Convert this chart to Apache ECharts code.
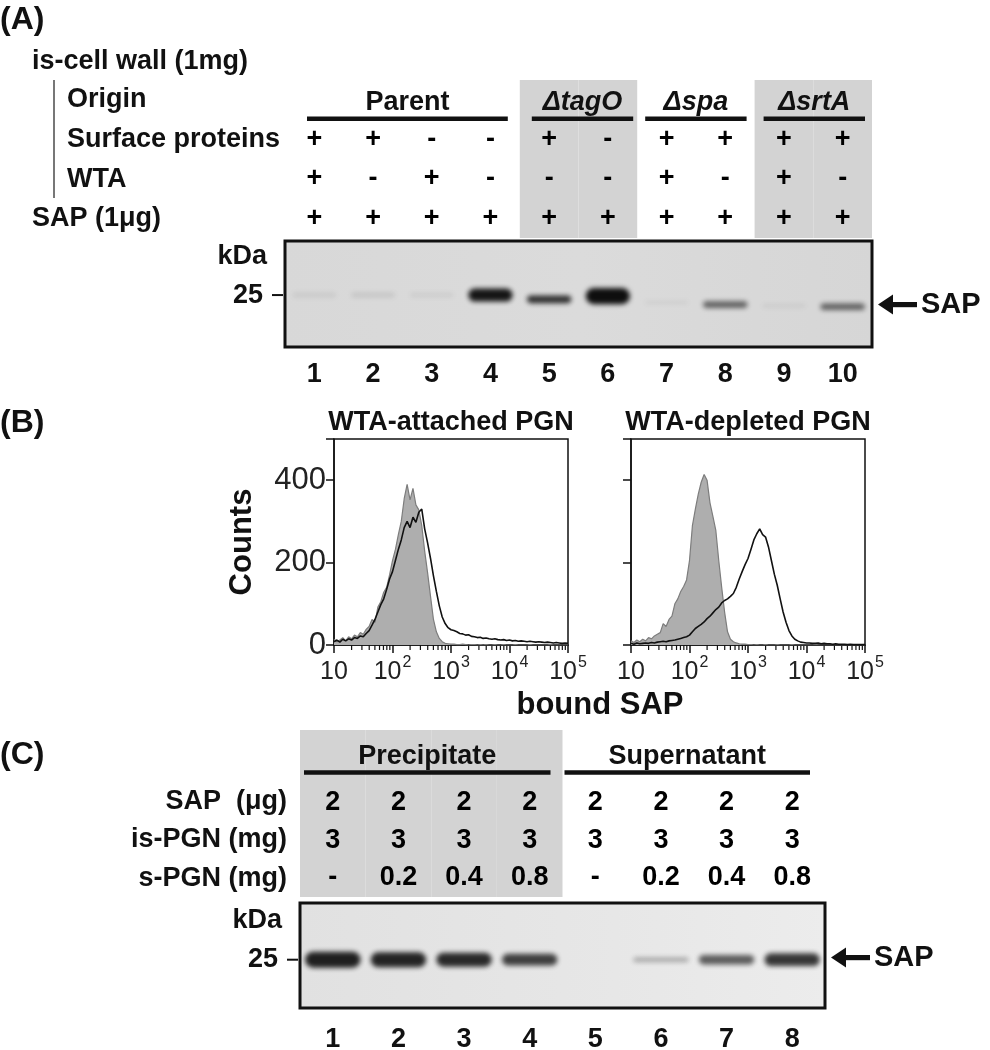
<!DOCTYPE html>
<html><head><meta charset="utf-8">
<script src="https://cdn.jsdelivr.net/npm/echarts@6/dist/echarts.min.js"></script>
<style>html,body{margin:0;padding:0;background:#fff}#c{width:990px;height:1050px}</style>
</head><body><div id="c"></div>
<script>
// ---------------- Panel A data ----------------
const lanesA = ['1','2','3','4','5','6','7','8','9','10'];
const originGroupsA = ['Parent','ΔtagO','Δspa','ΔsrtA'];
const originItalicA = [false, true, true, true];
const originSpansA = [[0,3],[4,5],[6,7],[8,9]];
const shadedA = [0,0,0,0,1,1,0,0,1,1];
const surfaceProteinsA = ['+','+','-','-','+','-','+','+','+','+'];
const wtaA = ['+','-','+','-','-','-','+','-','+','-'];
const sapA = ['+','+','+','+','+','+','+','+','+','+'];
// gel A: relative band darkness, migration (% of gel height from top), band spread (% of gel height)
const bandIntensityA = [0.07,0.09,0.06,0.97,0.85,1.0,0.05,0.6,0.06,0.6];
const bandPositionA = [51,51,51,51,55,52,58,60,61,62];
const bandSpreadA = [9,9,9,16,11,19,8,10,8,10];
const markerLabel = '25';
const markerPosA = 51;
const sapPosA = 60;

// ---------------- Panel B data ----------------
// flow histogram channels: 20 channels per decade, 10 .. 10^5
const attachedControl = [14,8,12,18,10,20,15,24,20,30,26,38,45,62,55,92,105,128,140,170,205,232,268,300,355,390,352,380,340,328,290,228,175,118,62,32,16,8,4,3,2,
 2,1,1,2,1,0,1,1,0,1,0,1,0,0,1,0,0,1,0,0,0,1,0,0,0,0,1,0,0,0,0,0,0,1,0,0,0,0,0,0];
const attachedSample = [8,12,7,14,10,15,12,18,16,22,20,28,35,48,62,80,98,112,135,160,178,205,232,255,285,300,285,310,298,322,330,282,248,210,168,130,95,68,52,42,37,
 35,32,28,27,24,25,21,20,18,19,16,17,15,14,15,13,12,13,11,12,10,11,9,10,9,8,9,8,7,8,7,6,7,6,5,6,5,4,5,4];
const depletedControl = [10,6,12,8,14,10,18,15,22,26,30,52,45,62,70,100,112,130,142,158,205,290,330,366,395,414,400,345,312,278,205,140,80,32,14,8,5,3,2,2,1,
 1,0,1,0,0,1,0,0,0,1,0,0,0,0,1,0,0,0,0,0,0,0,1,0,0,0,0,0,0,0,0,0,0,0,0,0,1,0,0,0];
const depletedSample = [4,2,5,3,4,5,4,6,5,7,8,9,8,10,11,12,14,16,18,20,24,32,40,45,50,56,64,70,78,86,92,102,108,112,118,125,140,160,178,195,210,
 232,255,270,282,268,262,238,205,172,145,112,80,55,35,22,14,10,7,6,5,5,4,4,5,3,4,3,3,2,3,2,2,2,1,2,1,1,1,1,1];
const channelX = attachedControl.map((_, i) => Math.pow(10, 1 + i / 20));
const minorTicks = [20,30,40,50,60,70,80,90,200,300,400,500,600,700,800,900,2000,3000,4000,5000,6000,7000,8000,9000,20000,30000,40000,50000,60000,70000,80000,90000];

// ---------------- Panel C data ----------------
const lanesC = ['1','2','3','4','5','6','7','8'];
const fractionGroupsC = ['Precipitate','Supernatant'];
const fractionSpansC = [[0,3],[4,7]];
const shadedC = [1,1,1,1,0,0,0,0];
const sapUgC = ['2','2','2','2','2','2','2','2'];
const isPgnC = ['3','3','3','3','3','3','3','3'];
const sPgnC = ['-','0.2','0.4','0.8','-','0.2','0.4','0.8'];
const bandIntensityC = [0.92,0.9,0.88,0.78,0,0.32,0.65,0.82];
const bandPositionC = [54,54,54,54,54,54,54,54];
const bandSpreadC = [19,18,17,15,0,8,13,16];
const markerPosC = 54;
const sapPosC = 52;

// ---------------- helpers ----------------
const FONT = '"Liberation Sans", Arial, Helvetica, sans-serif';
const INK = '#111';
function font(size, weight, italic) { return (italic ? 'italic ' : '') + (weight || 'bold') + ' ' + size + 'px ' + FONT; }
function T(text, x, y, size, align, weight) {
  align = align || 'left';
  return { type: 'text', x: x, y: y, silent: true,
    style: { text: text, font: font(size, weight), fill: INK, textAlign: align, align: align, textVerticalAlign: 'middle', verticalAlign: 'middle' } };
}
function headerRender(names, italics, labelVal, lineVal, insets) {
  return function (params, api) {
    const s = api.value(0), e = api.value(1);
    const band = api.size([1, 0])[0];
    const ins = insets[params.dataIndex];
    const p0 = api.coord([s, lineVal]), p1 = api.coord([e, lineVal]);
    const x0 = p0[0] - band / 2 + ins[0], x1 = p1[0] + band / 2 - ins[1];
    const ty = api.coord([s, labelVal])[1];
    const cx = (x0 + x1) / 2;
    return { type: 'group', children: [
      { type: 'rect', shape: { x: x0, y: p0[1] - 2.3, width: x1 - x0, height: 4.6 }, style: { fill: INK } },
      { type: 'text', style: { text: names[params.dataIndex], x: cx, y: ty, font: font(27, 'bold', italics[params.dataIndex]), fill: INK,
        textAlign: 'center', align: 'center', textVerticalAlign: 'middle', verticalAlign: 'middle' } }
    ] };
  };
}
function cellRender(texts) {
  return function (params, api) {
    const p = api.coord([api.value(0), api.value(1)]);
    return { type: 'group', children: [
      { type: 'text', style: { text: texts[params.dataIndex], x: p[0], y: p[1], font: font(27), fill: '#000', opacity: 1,
        textAlign: 'center', align: 'center', textVerticalAlign: 'middle', verticalAlign: 'middle' } }
    ] };
  };
}
function bandRender(widthFrac) {
  return function (params, api) {
    const inten = api.value(2);
    if (!(inten > 0)) return null;
    const c = api.coord([api.value(0), api.value(1)]);
    const sz = api.size([1, api.value(3)]);
    const bw = sz[0] * widthFrac - 5, h = Math.max(sz[1] - 4, 2);
    const OFF = 3000;
    // draw the band only as its blurred shadow (shape itself shifted off-canvas)
    return { type: 'rect', shape: { x: c[0] - bw / 2 - OFF, y: c[1] - h / 2, width: bw, height: h, r: h / 2 },
      style: { fill: '#000', shadowBlur: 5, shadowOffsetX: OFF, shadowOffsetY: 0, shadowColor: 'rgba(14,14,14,' + inten + ')' } };
  };
}
function markerRender(params, api) {
  // data: [laneIdxFirst, markerPos, laneIdxLast, sapPos]
  const band = api.size([1, 0])[0];
  const pm = api.coord([api.value(0), api.value(1)]);
  const left = pm[0] - band / 2;
  const ps = api.coord([api.value(2), api.value(3)]);
  const right = ps[0] + band / 2;
  const y = ps[1];
  const txt = (t, x, yy, size, align) => ({ type: 'text', style: { text: t, x: x, y: yy, font: font(size), fill: INK,
    textAlign: align, align: align, textVerticalAlign: 'middle', verticalAlign: 'middle' } });
  return { type: 'group', children: [
    txt('kDa', left - 18, pm[1] - 39, 27, 'right'),
    txt(markerLabel, left - 22, pm[1], 27, 'right'),
    { type: 'line', shape: { x1: left - 13, y1: pm[1], x2: left - 2, y2: pm[1] }, style: { stroke: INK, lineWidth: 2 } },
    { type: 'polygon', shape: { points: [[right + 6, y], [right + 21, y - 10], [right + 21, y + 10]] }, style: { fill: INK } },
    { type: 'rect', shape: { x: right + 19, y: y - 2.6, width: 26, height: 5.2 }, style: { fill: INK } },
    txt('SAP', right + 49, y, 29, 'left')
  ] };
}
function minorTickRender(params, api) {
  const p = api.coord([api.value(0), 0]);
  return { type: 'line', shape: { x1: p[0], y1: p[1], x2: p[0], y2: p[1] + 5 }, style: { stroke: INK, lineWidth: 1.2 } };
}
function logLabel(v) {
  const e = Math.round(Math.log10(v));
  return e === 1 ? '{b|10}' : '{b|10}{s|' + e + '}';
}
const logLabelRich = {
  b: { fontSize: 25, fontFamily: FONT, color: '#222', lineHeight: 30, verticalAlign: 'bottom' },
  s: { fontSize: 16, fontFamily: FONT, color: '#222', lineHeight: 30, verticalAlign: 'top', padding: [0, 0, 0, 1] }
};

const gridBase = { outerBoundsMode: 'none', containLabel: false };
const grids = [
  Object.assign({ left: 285, top: 80, width: 587, height: 158, show: false }, gridBase),
  Object.assign({ left: 285, top: 241, width: 587, height: 106, show: true, borderColor: INK, borderWidth: 3,
    backgroundColor: new echarts.graphic.LinearGradient(0, 0, 1, 0, [{ offset: 0, color: '#d8d8d8' }, { offset: 0.5, color: '#dbdbdb' }, { offset: 1, color: '#d6d6d6' }]) }, gridBase),
  Object.assign({ left: 334, top: 439, width: 234, height: 206, show: true, borderColor: INK, borderWidth: 1.5, backgroundColor: '#fff' }, gridBase),
  Object.assign({ left: 631, top: 439, width: 234, height: 206, show: true, borderColor: INK, borderWidth: 1.5, backgroundColor: '#fff' }, gridBase),
  Object.assign({ left: 300, top: 730, width: 525, height: 167, show: false }, gridBase),
  Object.assign({ left: 300, top: 903, width: 525, height: 105, show: true, borderColor: INK, borderWidth: 3,
    backgroundColor: new echarts.graphic.LinearGradient(0, 0, 1, 0, [{ offset: 0, color: '#e1e1e1' }, { offset: 0.6, color: '#e7e7e7' }, { offset: 1, color: '#ececec' }]) }, gridBase)
];
const laneAxisLabel = m => ({ show: true, margin: m, color: INK, fontSize: 27, fontWeight: 'bold', fontFamily: FONT });
const logX = gi => ({ type: 'log', logBase: 10, gridIndex: gi, min: 10, max: 100000,
  axisLine: { lineStyle: { color: INK, width: 1.5 } }, axisTick: { show: true, inside: false, length: 8, lineStyle: { color: INK, width: 1.5 } },
  splitLine: { show: false }, minorTick: { show: false }, axisLabel: { margin: 10, formatter: logLabel, rich: logLabelRich } });
const countY = (gi, labels) => Object.assign({ type: 'value', gridIndex: gi, min: 0, max: 500, interval: 200,
  axisLine: { show: true, lineStyle: { color: INK, width: 1.5 } }, axisTick: { show: true, inside: false, length: 8, lineStyle: { color: INK, width: 1.5 } },
  splitLine: { show: false },
  axisLabel: { show: labels, margin: 8, fontSize: 31, color: '#222', fontFamily: FONT, formatter: v => (v > 400 ? '' : String(v)) } },
  labels ? { name: 'Counts', nameLocation: 'middle', nameRotate: 90, nameGap: 76, nameTextStyle: { fontSize: 31, fontWeight: 'bold', color: INK, fontFamily: FONT } } : {});

function cellSeries(xi, rows) {
  const texts = [], data = [];
  rows.forEach(r => r.vals.forEach((v, i) => { texts.push(v); data.push([i, r.y]); }));
  return { type: 'custom', xAxisIndex: xi, yAxisIndex: xi, z: 4, silent: true, clip: false, renderItem: cellRender(texts), data: data };
}

const option = {
  animation: false,
  backgroundColor: '#fff',
  textStyle: { fontFamily: FONT },
  grid: grids,
  xAxis: [
    { type: 'category', gridIndex: 0, data: lanesA, show: false },
    { type: 'category', gridIndex: 1, data: lanesA, axisLine: { show: false }, axisTick: { show: false }, axisLabel: laneAxisLabel(14) },
    logX(2), logX(3),
    { type: 'category', gridIndex: 4, data: lanesC, show: false },
    { type: 'category', gridIndex: 5, data: lanesC, axisLine: { show: false }, axisTick: { show: false }, axisLabel: laneAxisLabel(18) }
  ],
  yAxis: [
    { type: 'value', gridIndex: 0, min: 0, max: 4, inverse: true, show: false },
    { type: 'value', gridIndex: 1, min: 0, max: 100, inverse: true, show: false },
    countY(2, true), countY(3, false),
    { type: 'value', gridIndex: 4, min: 0, max: 4.4, inverse: true, show: false },
    { type: 'value', gridIndex: 5, min: 0, max: 100, inverse: true, show: false }
  ],
  series: [
    // ---- Panel A table ----
    { type: 'bar', xAxisIndex: 0, yAxisIndex: 0, barWidth: '100%', silent: true, z: 1, itemStyle: { color: '#d3d3d3' },
      data: shadedA.map(f => (f ? 4 : '-')) },
    { type: 'custom', xAxisIndex: 0, yAxisIndex: 0, z: 3, silent: true, clip: false,
      renderItem: headerRender(originGroupsA, originItalicA, 0.56, 0.98, [[22, 12], [12, 4], [8, 8], [9, 7]]), data: originSpansA },
    cellSeries(0, [{ y: 1.5, vals: surfaceProteinsA }, { y: 2.5, vals: wtaA }, { y: 3.5, vals: sapA }]),
    // ---- Panel A gel ----
    { type: 'custom', xAxisIndex: 1, yAxisIndex: 1, z: 3, silent: true, clip: false, renderItem: bandRender(0.84),
      data: lanesA.map((l, i) => [i, bandPositionA[i], bandIntensityA[i], bandSpreadA[i]]) },
    { type: 'custom', xAxisIndex: 1, yAxisIndex: 1, z: 3, silent: true, clip: false, renderItem: markerRender,
      data: [[0, markerPosA, lanesA.length - 1, sapPosA]] },
    // ---- Panel B ----
    { type: 'line', xAxisIndex: 2, yAxisIndex: 2, showSymbol: false, symbol: 'none', z: 2, silent: true,
      lineStyle: { color: '#7d7d7d', width: 1.2 }, areaStyle: { color: '#aeaeae', opacity: 1 },
      data: channelX.map((x, i) => [x, attachedControl[i]]) },
    { type: 'line', xAxisIndex: 2, yAxisIndex: 2, showSymbol: false, symbol: 'none', z: 3, silent: true,
      lineStyle: { color: INK, width: 1.6 }, data: channelX.map((x, i) => [x, attachedSample[i]]) },
    { type: 'custom', xAxisIndex: 2, yAxisIndex: 2, clip: false, silent: true, renderItem: minorTickRender, data: minorTicks.map(v => [v, 0]) },
    { type: 'line', xAxisIndex: 3, yAxisIndex: 3, showSymbol: false, symbol: 'none', z: 2, silent: true,
      lineStyle: { color: '#7d7d7d', width: 1.2 }, areaStyle: { color: '#aeaeae', opacity: 1 },
      data: channelX.map((x, i) => [x, depletedControl[i]]) },
    { type: 'line', xAxisIndex: 3, yAxisIndex: 3, showSymbol: false, symbol: 'none', z: 3, silent: true,
      lineStyle: { color: INK, width: 1.6 }, data: channelX.map((x, i) => [x, depletedSample[i]]) },
    { type: 'custom', xAxisIndex: 3, yAxisIndex: 3, clip: false, silent: true, renderItem: minorTickRender, data: minorTicks.map(v => [v, 0]) },
    // ---- Panel C table ----
    { type: 'bar', xAxisIndex: 4, yAxisIndex: 4, barWidth: '100%', silent: true, z: 1, itemStyle: { color: '#d3d3d3' },
      data: shadedC.map(f => (f ? 4.4 : '-')) },
    { type: 'custom', xAxisIndex: 4, yAxisIndex: 4, z: 3, silent: true, clip: false,
      renderItem: headerRender(fractionGroupsC, [false, false], 0.7, 1.12, [[4, 12], [2, 15]]), data: fractionSpansC },
    cellSeries(4, [{ y: 1.9, vals: sapUgC }, { y: 2.9, vals: isPgnC }, { y: 3.9, vals: sPgnC }]),
    // ---- Panel C gel ----
    { type: 'custom', xAxisIndex: 5, yAxisIndex: 5, z: 3, silent: true, clip: false, renderItem: bandRender(0.92),
      data: lanesC.map((l, i) => [i, bandPositionC[i], bandIntensityC[i], bandSpreadC[i]]) },
    { type: 'custom', xAxisIndex: 5, yAxisIndex: 5, z: 3, silent: true, clip: false, renderItem: markerRender,
      data: [[0, markerPosC, lanesC.length - 1, sapPosC]] }
  ],
  graphic: [
    T('(A)', 0, 20, 32),
    T('is-cell wall (1mg)', 32, 62, 27),
    { type: 'line', silent: true, shape: { x1: 54, y1: 80, x2: 54, y2: 198 }, style: { stroke: '#777', lineWidth: 2 } },
    T('Origin', 67, 100, 27),
    T('Surface proteins', 67, 140, 27),
    T('WTA', 67, 180, 27),
    T('SAP (1μg)', 32, 219, 27),
    T('(B)', 0, 423, 32),
    T('WTA-attached PGN', 451, 423, 27, 'center'),
    T('WTA-depleted PGN', 748, 423, 27, 'center'),
    T('bound SAP', 600, 705, 31, 'center'),
    T('(C)', 0, 755, 32),
    T('SAP  (μg)', 287, 802, 27, 'right'),
    T('is-PGN (mg)', 287, 840, 27, 'right'),
    T('s-PGN (mg)', 287, 879, 27, 'right')
  ]
};
const chart = echarts.init(document.getElementById('c'), null, { renderer: 'canvas' });
chart.setOption(option);
</script></body></html>
